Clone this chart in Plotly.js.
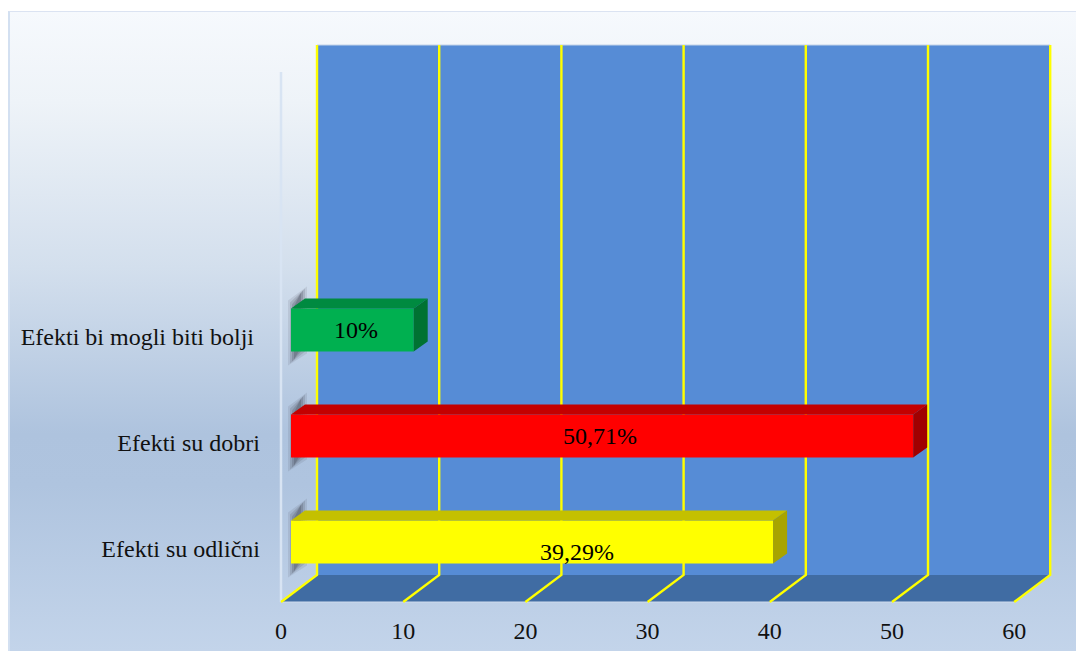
<!DOCTYPE html>
<html>
<head>
<meta charset="utf-8">
<script src="https://cdn.plot.ly/plotly-3.0.1.min.js"></script>
<style>
html,body{margin:0;padding:0;background:#fff;width:1076px;height:651px;overflow:hidden}
#bg{position:absolute;left:8px;top:11px;width:1068px;height:640px;box-sizing:border-box;
 border-left:2px solid #d3e0f1;border-top:1px solid #dbe3f2;
 background:linear-gradient(180deg,#f6f9fd 0%,#eef3f8 14%,#d3dfed 40%,#aec3de 66%,#afc4df 74%,#c3d4ea 100%)}
#chart{position:absolute;left:0;top:0;width:1076px;height:651px}
</style>
</head>
<body>
<div id="bg"></div>
<div id="chart"></div>
<script>
const categories=['Efekti su odlični','Efekti su dobri','Efekti bi mogli biti bolji '];
const values=[39.29,50.71,10];
const valueLabels=['39,29%','50,71%','10%'];
const barColors=['#ffff00','#ff0000','#00b050'];
const barTopColors=['#c4c000','#c40000','#008a40'];
const barSideColors=['#a8a400','#a00000','#007232'];
const xTicks=[0,10,20,30,40,50,60];
const slotCount=5;

const W=1076,H=651;
const pxPerX=12.22, pxPerY=106, x0Px=281, y0Px=602, pad=6, xEndPx=1050;
const xRange=[-pad/pxPerX,(xEndPx-x0Px+pad)/pxPerX];
const yBottom=-0.5;
const yRange=[yBottom-pad/pxPerY,yBottom+(602-45+pad)/pxPerY];
const depthX=36/pxPerX, depthY=27/pxPerY;
const wallTop=yBottom+(602-45)/pxPerY, frontTop=yBottom+(602-72)/pxPerY;
const shapes=[];
const path=(pts)=>'M'+pts.map(p=>p[0]+','+p[1]).join('L')+'Z';
const line=(pts)=>'M'+pts.map(p=>p[0]+','+p[1]).join('L');
const xmax=xTicks[xTicks.length-1];
shapes.push({type:'path',xref:'x',yref:'y',layer:'below',line:{width:0},fillcolor:'#568cd6',
  path:path([[depthX,yBottom+depthY],[xmax+depthX,yBottom+depthY],[xmax+depthX,wallTop],[depthX,wallTop]])});
shapes.push({type:'path',xref:'x',yref:'y',layer:'below',line:{color:'#c3d3e8',width:1},
  path:line([[depthX,wallTop],[xmax+depthX,wallTop]])});
shapes.push({type:'path',xref:'x',yref:'y',layer:'below',line:{width:0},fillcolor:'#406ca3',
  path:path([[0,yBottom],[xmax,yBottom],[xmax+depthX,yBottom+depthY],[depthX,yBottom+depthY]])});
shapes.push({type:'path',xref:'x',yref:'y',layer:'below',line:{color:'#d8e4f3',width:2.5},
  path:line([[0,yBottom],[0,frontTop]])});
shapes.push({type:'path',xref:'x',yref:'y',layer:'below',line:{color:'#d0dced',width:1},
  path:line([[0,yBottom],[xmax,yBottom]])});
xTicks.forEach(v=>shapes.push({type:'path',xref:'x',yref:'y',layer:'below',line:{color:'#ffff00',width:2.4},
  path:line([[v,yBottom],[v+depthX,yBottom+depthY],[v+depthX,wallTop]])}));

const barPxX=12.27, barPxY=106, barX0=291, barYBottom=595, barH=43, barPad=6;
const hw=barH/barPxY/2, dX=14/barPxX, dY=10/barPxY;
values.forEach((v,i)=>{
  // soft shadow on the left wall: nested translucent layers
  [[0,.12],[2,.18],[4,.24],[6,.3]].forEach(([g,o])=>{
    const X=p=>p/barPxX, Y=p=>p/barPxY;
    shapes.push({type:'path',xref:'x2',yref:'y2',layer:'below',line:{width:0},fillcolor:'rgba(70,76,90,'+o+')',
      path:path([
        [X(-3+g),i+hw+Y(8-g)],
        [X(16-g),i+hw+Y(22-g)],
        [X(16-g),i-hw-Y(2-g)],
        [X(-3+g),i-hw-Y(14-g)]
      ])});
  });
  shapes.push({type:'path',xref:'x2',yref:'y2',layer:'above',line:{width:0},fillcolor:barTopColors[i],
    path:path([[0,i+hw],[dX,i+hw+dY],[v+dX,i+hw+dY],[v,i+hw]])});
  shapes.push({type:'path',xref:'x2',yref:'y2',layer:'above',line:{width:0},fillcolor:barSideColors[i],
    path:path([[v,i-hw],[v+dX,i-hw+dY],[v+dX,i+hw+dY],[v,i+hw]])});
});

const barTrace={type:'bar',orientation:'h',x:values,y:[0,1,2],width:barH/barPxY,base:0,xaxis:'x2',yaxis:'y2',
  marker:{color:barColors,line:{width:0}},hoverinfo:'skip',cliponaxis:false};
const axisTrace={type:'scatter',mode:'none',x:xTicks,y:xTicks.map(()=>0),xaxis:'x',yaxis:'y',hoverinfo:'skip',showlegend:false};

const labelShift=[[45,-10],[-2,0],[4,0]];
const annotations=values.map((v,i)=>({xref:'x2',yref:'y2',x:v/2,y:i,text:valueLabels[i],showarrow:false,
  xshift:labelShift[i][0],yshift:labelShift[i][1],font:{family:'"Liberation Serif",serif',size:24,color:'#000'}}));

const font={family:'"Liberation Serif",serif',size:24,color:'#111'};
const layout={
  width:W,height:H,margin:{l:0,r:0,t:0,b:0},paper_bgcolor:'rgba(0,0,0,0)',plot_bgcolor:'rgba(0,0,0,0)',
  showlegend:false,barmode:'overlay',font,
  xaxis:{domain:[(x0Px-pad)/W,(xEndPx+pad)/W],range:xRange,tickmode:'array',tickvals:xTicks,ticktext:xTicks.map(String),
    showgrid:false,zeroline:false,showline:false,ticks:'',tickfont:font,anchor:'y',ticklabelstandoff:6,automargin:false},
  yaxis:{domain:[1-(602+pad)/H,1-(45-pad)/H],range:yRange,tickmode:'array',tickvals:[0,1,2],ticktext:categories,
    showgrid:false,zeroline:false,showline:false,ticks:'',tickfont:font,anchor:'x',ticklabelstandoff:14,automargin:false},
  xaxis2:{domain:[(barX0-barPad)/W,(barX0+xmax*barPxX+40)/W],range:[-barPad/barPxX,xmax+40/barPxX],visible:false,anchor:'y2'},
  yaxis2:{domain:[1-barYBottom/H,1-(barYBottom-slotCount*barPxY)/H],range:[-0.5,slotCount-0.5],visible:false,anchor:'x2'},
  shapes,annotations
};
Plotly.newPlot('chart',[axisTrace,barTrace],layout,{displayModeBar:false,staticPlot:true});
</script>
</body>
</html>
